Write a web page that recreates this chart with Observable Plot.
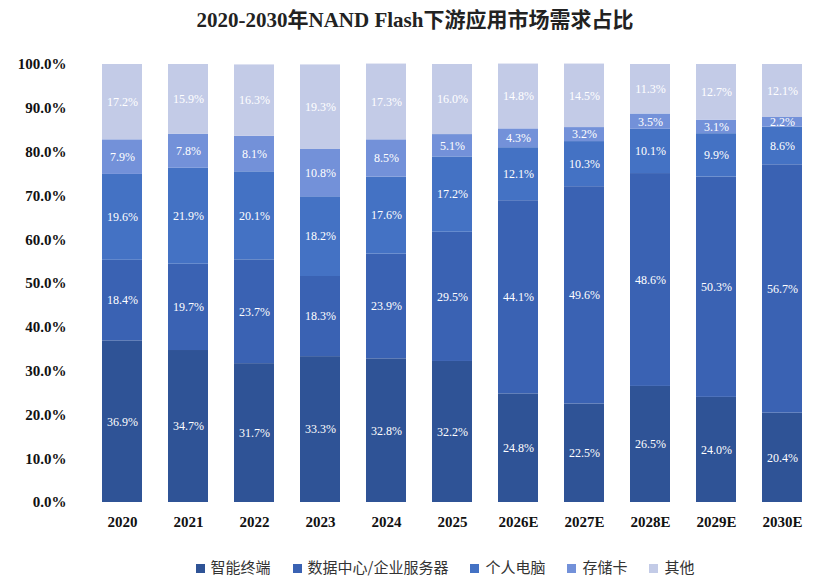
<!DOCTYPE html>
<html><head><meta charset="utf-8">
<script src="https://cdn.jsdelivr.net/npm/d3@7"></script>
<script src="https://cdn.jsdelivr.net/npm/@observablehq/plot@0.6"></script>
<style>
body{margin:0;background:#fff;font-family:"Liberation Serif","Noto Sans CJK SC",serif;}
#title{height:44px;line-height:40px;text-align:center;font-weight:bold;font-size:21px;color:#222;}
#legend{display:flex;justify-content:center;gap:22px;font-size:15px;margin-top:14px;font-family:"Noto Sans CJK SC",sans-serif;color:#333;padding-left:60px}
#legend span i{display:inline-block;width:9px;height:9px;margin-right:6px;}
</style></head><body>
<div id="title">2020-2030年NAND Flash下游应用市场需求占比</div>
<div id="chart"></div>
<div id="legend"></div>
<script>
const years=["2020","2021","2022","2023","2024","2025","2026E","2027E","2028E","2029E","2030E"];
const seriesNames=["智能终端","数据中心/企业服务器","个人电脑","存储卡","其他"];
const smart=[36.9,34.7,31.7,33.3,32.8,32.2,24.8,22.5,26.5,24.0,20.4];
const dc=[18.4,19.7,23.7,18.3,23.9,29.5,44.1,49.6,48.6,50.3,56.7];
const pc=[19.6,21.9,20.1,18.2,17.6,17.2,12.1,10.3,10.1,9.9,8.6];
const card=[7.9,7.8,8.1,10.8,8.5,5.1,4.3,3.2,3.5,3.1,2.2];
const other=[17.2,15.9,16.3,19.3,17.3,16.0,14.8,14.5,11.3,12.7,12.1];
const colors=["#2f5396","#3a62b3","#4472c4","#7391d9","#c3cbe7"];
const all=[smart,dc,pc,card,other];
const data=[];
years.forEach((y,i)=>all.forEach((s,k)=>data.push({year:y,series:seriesNames[k],k,v:s[i]})));
const plot=Plot.plot({
  width:830,height:498,marginTop:20,marginBottom:40,marginLeft:78,marginRight:4,
  style:{fontFamily:"Liberation Serif",fontSize:"15px",color:"#111"},
  x:{domain:years,label:null,paddingInner:0.4,paddingOuter:0.3,tickSize:0,tickPadding:14},
  y:{domain:[0,100],ticks:d3.range(0,101,10),tickFormat:d=>d.toFixed(1)+"%",label:null,tickSize:0,tickPadding:12},
  color:{domain:seriesNames,range:colors},
  marks:[
    Plot.barY(data,{x:"year",y:"v",fill:"series",order:"k"}),
    Plot.text(data,Plot.stackY({x:"year",y:"v",order:"k",text:d=>d.v.toFixed(1)+"%",fill:"white",fontSize:12})),
    Plot.axisX({tickSize:0,tickPadding:14,fontWeight:"bold",fontSize:15}),
    Plot.axisY({ticks:d3.range(0,101,10),tickFormat:d=>d.toFixed(1)+"%",tickSize:0,tickPadding:12,fontWeight:"bold",fontSize:15})
  ]
});
document.getElementById("chart").appendChild(plot);
document.getElementById("legend").innerHTML=seriesNames.map((n,i)=>`<span><i style="background:${colors[i]}"></i>${n}</span>`).join("");
</script></body></html>
